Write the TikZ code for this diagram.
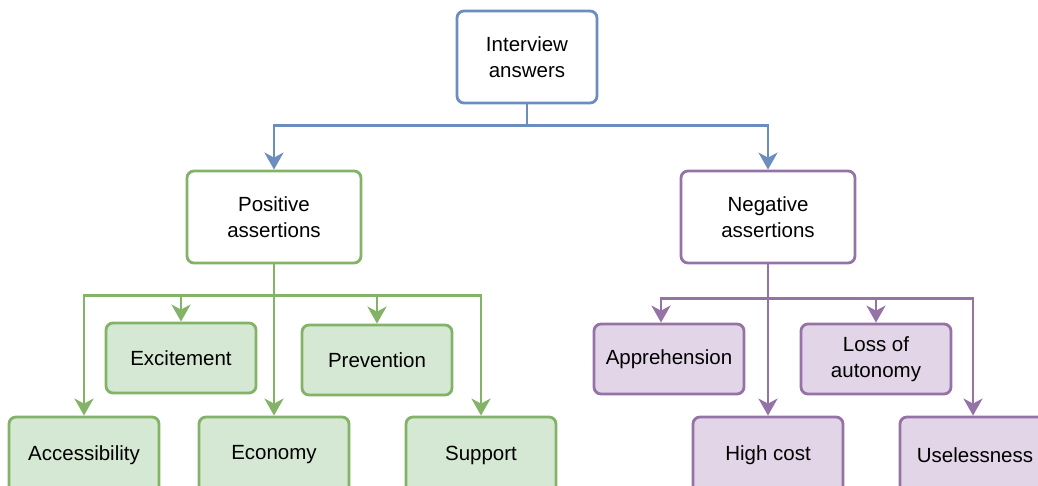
\documentclass[tikz,border=0pt]{standalone}
\usepackage{fontspec}
\setmainfont{Liberation Sans}
\usetikzlibrary{arrows.meta}

\definecolor{blueline}{HTML}{6C8EBF}
\definecolor{greenline}{HTML}{82B366}
\definecolor{greenfill}{HTML}{D5E8D4}
\definecolor{purpleline}{HTML}{9673A6}
\definecolor{purplefill}{HTML}{E1D5E7}

\tikzset{
  box/.style={draw, rounded corners=7pt, line width=2.8pt, align=center,
    inner sep=0pt, font=\fontsize{20.5}{26}\selectfont},
  rootbox/.style={box, draw=blueline, fill=white, minimum width=140pt, minimum height=92pt},
  posbox/.style={box, draw=greenline, fill=white, minimum width=174pt, minimum height=92pt},
  negbox/.style={box, draw=purpleline, fill=white, minimum width=174pt, minimum height=92pt},
  gleaf/.style={box, draw=greenline, fill=greenfill, minimum width=150pt, minimum height=70pt},
  pleaf/.style={box, draw=purpleline, fill=purplefill, minimum width=150pt, minimum height=70pt},
  lowleaf/.style={minimum height=76pt},
  link/.style={line width=2.8pt, -{Stealth[length=17pt,width=19pt,inset=5pt]}}
}

\begin{document}
\begin{tikzpicture}[x=1pt,y=-1pt]

  \useasboundingbox (0,0) rectangle (1038,486);

  % top
  \node[rootbox] at (527,57) (root) {Interview\\answers};
  \node[posbox] at (274,217) (pos) {Positive\\assertions};
  \node[negbox] at (768,217) (neg) {Negative\\assertions};

  % positive side
  \node[gleaf] at (181,358) (exc) {Excitement};
  \node[gleaf] at (377,360) (prev) {Prevention};
  \node[gleaf, lowleaf] at (84,455) (acc) {Accessibility};
  \node[gleaf, lowleaf] at (274,455) (eco) {Economy};
  \node[gleaf, lowleaf] at (481,455) (sup) {Support};

  % negative side
  \node[pleaf] at (669,359) (appr) {Apprehension};
  \node[pleaf] at (876,359) (loss) {Loss of\\autonomy};
  \node[pleaf, lowleaf] at (768,455) (cost) {High cost};
  \node[pleaf, lowleaf] at (975,455) (usel) {Uselessness};

  \draw[link, blueline] (root.south) -- ++(0,21) -| (pos.north);
  \draw[link, blueline] (root.south) -- ++(0,21) -| (neg.north);

  \draw[link, greenline] (pos.south) -- ++(0,31) -| (acc.north);
  \draw[link, greenline] (pos.south) -- ++(0,31) -| (exc.north);
  \draw[link, greenline] (pos.south) -- (eco.north);
  \draw[link, greenline] (pos.south) -- ++(0,31) -| (prev.north);
  \draw[link, greenline] (pos.south) -- ++(0,31) -| (sup.north);

  \draw[link, purpleline] (neg.south) -- ++(0,34) -| ([xshift=-8pt]appr.north);
  \draw[link, purpleline] (neg.south) -- (cost.north);
  \draw[link, purpleline] (neg.south) -- ++(0,34) -| (loss.north);
  \draw[link, purpleline] (neg.south) -- ++(0,34) -| ([xshift=-2pt]usel.north);

\end{tikzpicture}
\end{document}
